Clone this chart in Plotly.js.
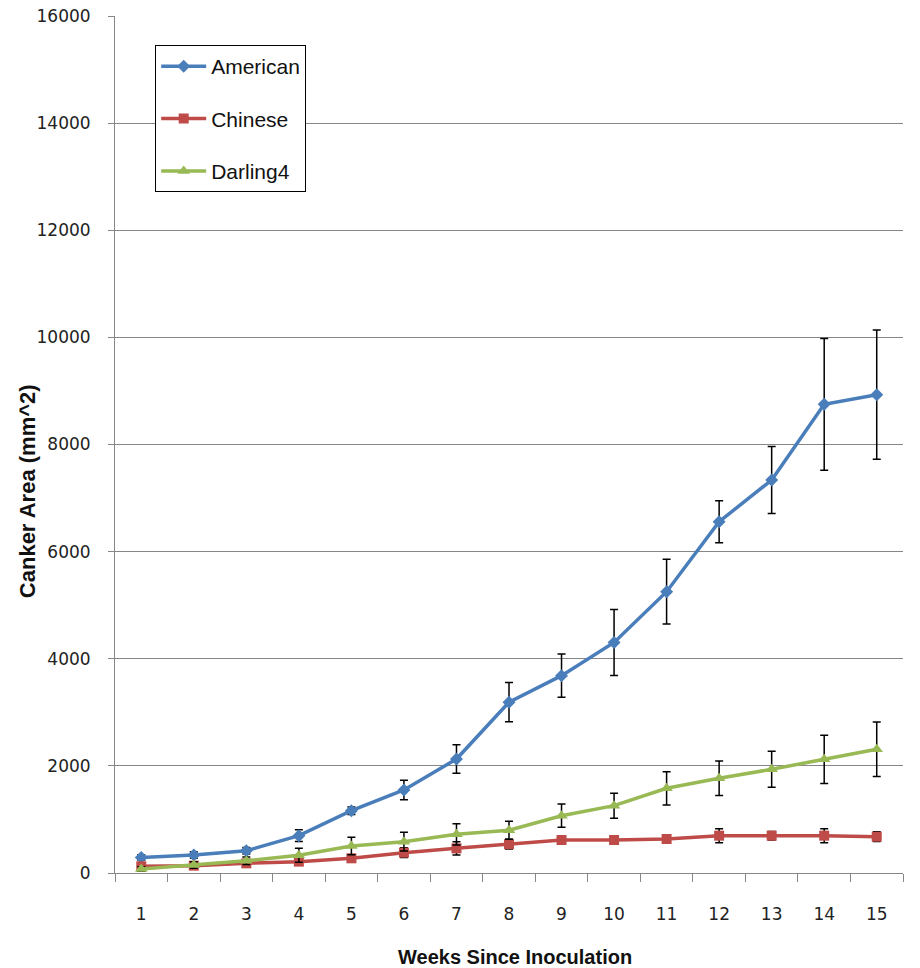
<!DOCTYPE html>
<html>
<head>
<meta charset="utf-8">
<script src="https://cdn.plot.ly/plotly-3.0.1.min.js"></script>
<style>html,body{margin:0;padding:0;background:#fff;}#chart{width:920px;height:968px;}</style>
</head>
<body>
<div id="chart"></div>
<script>
var weeks = [1,2,3,4,5,6,7,8,9,10,11,12,13,14,15];
var weekLabels = ["1","2","3","4","5","6","7","8","9","10","11","12","13","14","15"];
var american = [290, 336, 416, 697, 1163, 1550, 2128, 3190, 3684, 4305, 5252, 6559, 7337, 8750, 8930];
var americanErr = [50, 60, 60, 110, 70, 183, 268, 368, 405, 616, 604, 392, 625, 1229, 1207];
var chinese = [125, 137, 180, 212, 274, 380, 460, 538, 616, 616, 635, 697, 697, 697, 678];
var chineseErr = [40, 40, 60, 60, 60, 90, 125, 90, 70, 70, 80, 130, 80, 130, 90];
var darling4 = [75, 149, 230, 330, 504, 585, 722, 797, 1070, 1257, 1581, 1768, 1936, 2123, 2310];
var darling4Err = [40, 60, 70, 130, 162, 175, 198, 168, 218, 233, 311, 323, 336, 450, 507];

function series(name, y, err, color, symbol, msize){
  return {
    x: weeks, y: y, name: name, type: 'scatter', mode: 'lines+markers',
    legendgroup: name,
    line: {color: color, width: 3.5},
    marker: {color: color, symbol: symbol, size: msize},
    error_y: {type: 'data', array: err, visible: true, color: '#000', thickness: 1.5, width: 4}
  };
}
var data = [
  series('American', american, americanErr, '#4A7EBB', 'diamond', 10),
  series('Chinese', chinese, chineseErr, '#BE4B48', 'square', 10),
  series('Darling4', darling4, darling4Err, '#98B954', 'triangle-up', 11)
];
var layout = {
  width: 920, height: 968,
  margin: {l: 115, r: 17, t: 16, b: 95},
  paper_bgcolor: '#fff', plot_bgcolor: '#fff',
  showlegend: true,
  legend: {
    x: 0.051, y: 0.966, xanchor: 'left', yanchor: 'top',
    bordercolor: '#000', borderwidth: 1, bgcolor: '#fff',
    font: {family: 'Liberation Sans, Arial, sans-serif', size: 21, color: '#111'},
    traceorder: 'grouped', tracegroupgap: 22, itemwidth: 45,
    entrywidth: 148
  },
  xaxis: {
    range: [0.5, 15.5], tickvals: weeks, ticktext: weekLabels,
    showgrid: false, zeroline: false,
    showline: true, linecolor: '#868686', linewidth: 1,
    ticks: 'outside', ticklen: 26, tickcolor: 'rgba(0,0,0,0)',
    tickfont: {family: 'DejaVu Sans, sans-serif', size: 17, color: '#222'},
    minor: {tick0: 0.5, dtick: 1, ticks: 'outside', ticklen: 8, tickcolor: '#868686', showgrid: false}
  },
  yaxis: {
    range: [0, 16000], dtick: 2000, tick0: 0, tickformat: 'd',
    showgrid: true, gridcolor: '#868686', gridwidth: 1,
    zeroline: false, showline: true, linecolor: '#868686', linewidth: 1,
    ticks: 'outside', ticklen: 6, tickcolor: '#868686',
    ticklabelstandoff: 14,
    tickfont: {family: 'DejaVu Sans, sans-serif', size: 17, color: '#222'}
  },
  annotations: [
    {text: '<b>Weeks Since Inoculation</b>', xref: 'paper', yref: 'paper', x: 0.5075, y: -0.0975,
     xanchor: 'center', yanchor: 'middle', showarrow: false,
     font: {family: 'Liberation Sans, Arial, sans-serif', size: 20, color: '#111'}},
    {text: '<b>Canker Area (mm^2)</b>', xref: 'paper', yref: 'paper', x: -0.111, y: 0.445,
     xanchor: 'center', yanchor: 'middle', showarrow: false, textangle: -90,
     font: {family: 'Liberation Sans, Arial, sans-serif', size: 22, color: '#111'}}
  ]
};
Plotly.newPlot('chart', data, layout, {displayModeBar: false});
</script>
</body>
</html>
